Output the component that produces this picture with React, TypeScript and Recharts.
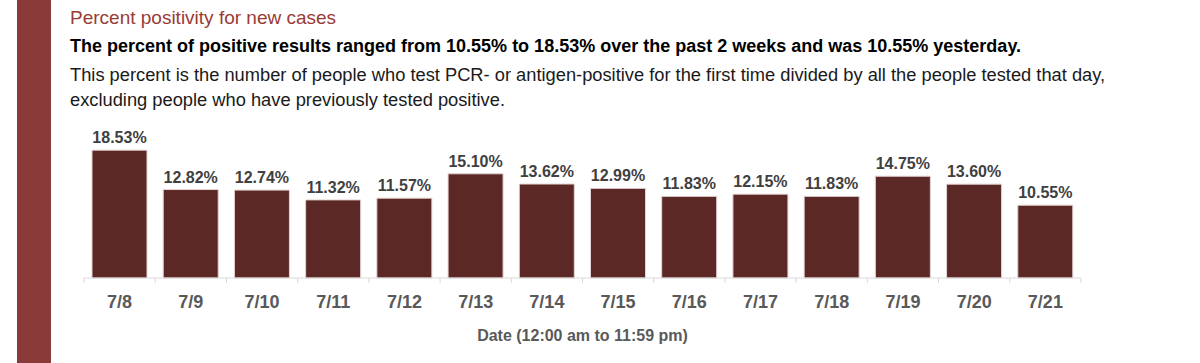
import * as React from 'react';
import { BarChart, Bar, XAxis, YAxis, LabelList } from 'recharts';

const dates = ['7/8', '7/9', '7/10', '7/11', '7/12', '7/13', '7/14', '7/15', '7/16', '7/17', '7/18', '7/19', '7/20', '7/21'];
const positivity = [18.53, 12.82, 12.74, 11.32, 11.57, 15.1, 13.62, 12.99, 11.83, 12.15, 11.83, 14.75, 13.6, 10.55];

const data = dates.map((date, i) => ({ date, value: positivity[i] }));

const W = 1200;
const H = 363;
const AXIS_H = 30;
const MARGIN = { top: 140, right: 119, bottom: 55, left: 84 };
const BAND = (W - MARGIN.left - MARGIN.right) / dates.length;
const AXIS_Y = H - MARGIN.bottom - AXIS_H;

const sans = '"Liberation Sans", Arial, sans-serif';

const DateTick = (props: any) => {
  const { x, payload, index } = props;
  const left = x - BAND / 2;
  return (
    <g>
      <line x1={left} y1={AXIS_Y} x2={left} y2={AXIS_Y + 5} stroke="#d9d9d9" />
      {index === dates.length - 1 && (
        <line x1={left + BAND} y1={AXIS_Y} x2={left + BAND} y2={AXIS_Y + 5} stroke="#d9d9d9" />
      )}
      <text x={x} y={AXIS_Y + 30} textAnchor="middle" fill="#595959" fontSize={18} fontWeight={700} fontFamily={sans}>
        {payload.value}
      </text>
    </g>
  );
};

export default function App() {
  return (
    <div style={{ position: 'absolute', left: 0, top: 0, width: W, height: H, background: '#fff', overflow: 'hidden' }}>
      <div style={{ position: 'absolute', left: 17, top: 0, width: 34, height: H, background: '#8b3a3a' }} />
      <div style={{ position: 'absolute', left: 70, top: 7, fontFamily: sans, fontSize: 19, color: '#9a3b35', whiteSpace: 'nowrap' }}>
        Percent positivity for new cases
      </div>
      <div style={{ position: 'absolute', left: 70, top: 36, fontFamily: sans, fontSize: 18, fontWeight: 700, color: '#000', whiteSpace: 'nowrap' }}>
        The percent of positive results ranged from 10.55% to 18.53% over the past 2 weeks and was 10.55% yesterday.
      </div>
      <div style={{ position: 'absolute', left: 70, top: 62, fontFamily: sans, fontSize: 18.3, color: '#1a1a1a', lineHeight: '25px', width: 1120 }}>
        This percent is the number of people who test PCR- or antigen-positive for the first time divided by all the people tested that day,
        <br />
        excluding people who have previously tested positive.
      </div>
      <div style={{ position: 'absolute', left: 0, top: 0 }}>
        <BarChart width={W} height={H} data={data} margin={MARGIN}>
          <XAxis
            dataKey="date"
            height={AXIS_H}
            axisLine={{ stroke: '#d9d9d9' }}
            tickLine={false}
            tick={<DateTick />}
            interval={0}
            label={{ value: 'Date (12:00 am to 11:59 pm)', position: 'insideBottom', offset: -33, fill: '#595959', fontSize: 16, fontWeight: 700, fontFamily: sans }}
          />
          <YAxis hide domain={[0, 20]} />
          <Bar dataKey="value" fill="#5c2825" stroke="#e3d3d3" strokeWidth={1} barSize={55} isAnimationActive={false}>
            <LabelList
              dataKey="value"
              position="top"
              offset={7}
              formatter={(v: any) => `${Number(v).toFixed(2)}%`}
              fill="#404040"
              fontSize={16}
              fontWeight={700}
              fontFamily={sans}
            />
          </Bar>
        </BarChart>
      </div>
    </div>
  );
}
